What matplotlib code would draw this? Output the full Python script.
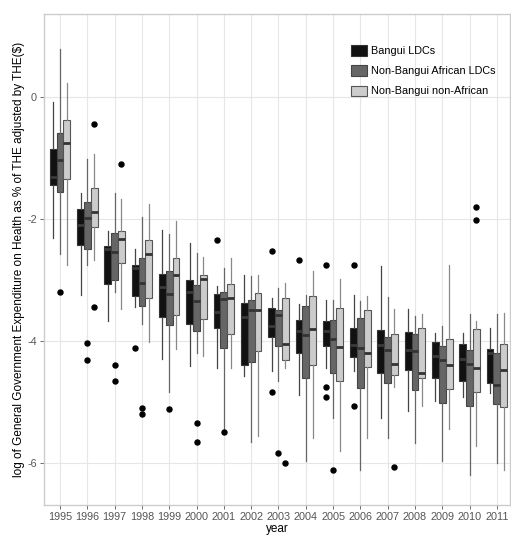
import matplotlib
matplotlib.use("Agg")
import matplotlib.pyplot as plt
from matplotlib.patches import Patch
import numpy as np

plt.rcParams['font.family'] = ['Liberation Sans', 'DejaVu Sans']

years = list(range(1995, 2012))
groups = ["Bangui LDCs", "Non-Bangui African LDCs", "Non-Bangui non-African"]

# Bangui LDCs
b_hi = [-0.08, -1.58, -2.19, -2.50, -2.18, -2.40, -3.10, -2.92, -3.30, -3.40, -3.33, -3.24, -2.77, -3.48, -3.87, -3.87, -3.79]
b_q3 = [-0.85, -1.84, -2.45, -2.75, -2.90, -3.00, -3.23, -3.37, -3.46, -3.65, -3.68, -3.79, -3.82, -3.85, -4.01, -4.05, -4.13]
b_md = [-1.31, -2.10, -2.50, -2.80, -3.11, -3.20, -3.53, -3.60, -3.76, -3.83, -3.84, -4.06, -4.07, -4.15, -4.24, -4.30, -4.20]
b_q1 = [-1.45, -2.43, -3.06, -3.27, -3.60, -3.73, -3.79, -4.40, -3.93, -4.19, -4.08, -4.27, -4.52, -4.47, -4.60, -4.65, -4.69]
b_lo = [-2.31, -3.25, -3.67, -3.45, -4.29, -4.41, -4.44, -4.58, -4.50, -4.88, -4.45, -4.50, -5.26, -5.15, -4.99, -4.92, -4.85]
b_out = [[], [], [], [-4.11], [], [], [-2.34], [], [-2.52, -4.84], [-2.68],
         [-2.76, -4.76, -4.92], [-2.75, -5.07], [], [], [], [], []]

# Non-Bangui African LDCs
a_hi = [0.79, -1.01, -1.58, -1.97, -2.25, -2.56, -2.81, -2.94, -3.13, -3.24, -3.33, -3.35, -3.28, -3.59, -3.75, -3.55, -3.56]
a_q3 = [-0.59, -1.73, -2.23, -2.64, -2.85, -3.08, -3.20, -3.33, -3.49, -3.42, -3.65, -3.63, -3.93, -3.89, -4.09, -4.15, -4.20]
a_md = [-1.04, -1.99, -2.54, -3.05, -3.23, -3.34, -3.32, -3.50, -3.57, -3.90, -3.96, -4.12, -4.15, -4.17, -4.31, -4.37, -4.73]
a_q1 = [-1.55, -2.49, -3.00, -3.42, -3.74, -3.83, -4.11, -4.35, -4.08, -4.61, -4.52, -4.77, -4.69, -4.80, -5.01, -5.07, -5.04]
a_lo = [-2.58, -2.76, -3.20, -3.73, -4.83, -4.20, -5.45, -5.66, -4.66, -5.96, -5.26, -6.11, -5.59, -5.68, -5.97, -6.20, -6.00]
a_out = [[-3.19], [-4.03, -4.31], [-4.39, -4.66], [-5.10, -5.19], [-5.11], [-5.35, -5.65], [-5.50],
         [], [-5.84], [], [-6.12], [], [], [], [], [], []]

# Non-Bangui non-African
n_hi = [0.23, -0.93, -1.67, -1.76, -2.04, -2.62, -2.64, -2.92, -3.05, -2.85, -2.99, -3.27, -3.48, -3.56, -2.75, -3.68, -3.54]
n_q3 = [-0.38, -1.50, -2.20, -2.34, -2.64, -2.92, -3.07, -3.21, -3.30, -3.27, -3.46, -3.49, -3.88, -3.78, -3.97, -3.80, -4.05]
n_md = [-0.75, -1.89, -2.33, -2.58, -2.92, -2.99, -3.30, -3.49, -4.05, -3.81, -4.10, -4.19, -4.37, -4.52, -4.39, -4.44, -4.47]
n_q1 = [-1.35, -2.13, -2.72, -3.30, -3.57, -3.64, -3.88, -4.16, -4.32, -4.39, -4.65, -4.43, -4.56, -4.60, -4.79, -4.84, -5.08]
n_lo = [-2.76, -2.68, -3.48, -4.02, -4.13, -4.25, -4.44, -5.55, -4.44, -5.59, -5.81, -5.59, -4.76, -5.07, -5.44, -5.73, -6.11]
n_out = [[], [-0.44, -3.45], [-1.10], [], [], [], [], [], [-6.00], [], [], [], [-6.06], [], [], [-1.80, -2.02], []]

series = [
    (b_lo, b_q1, b_md, b_q3, b_hi, b_out),
    (a_lo, a_q1, a_md, a_q3, a_hi, a_out),
    (n_lo, n_q1, n_md, n_q3, n_hi, n_out),
]
fills = ["#111111", "#666666", "#cccccc"]
edges = ["#333333", "#444444", "#555555"]
whisk = ["#444444", "#666666", "#888888"]
offsets = [-0.25, 0.0, 0.25]

fig = plt.figure(figsize=(5.11, 5.39), dpi=100)
ax = fig.add_axes([0.086, 0.063, 0.912, 0.911])

x = np.arange(len(years))
for k, (lo, q1, md, q3, hi, out) in enumerate(series):
    stats = []
    for i in range(len(years)):
        stats.append(dict(whislo=lo[i], q1=q1[i], med=md[i], q3=q3[i], whishi=hi[i], fliers=out[i]))
    ax.bxp(stats, positions=x + offsets[k], widths=0.25, patch_artist=True, showcaps=False,
           boxprops=dict(facecolor=fills[k], edgecolor=edges[k], linewidth=0.8),
           medianprops=dict(color="#333333" if k > 0 else "#3a3a3a", linewidth=2.0),
           whiskerprops=dict(color=whisk[k], linewidth=0.9),
           flierprops=dict(marker='o', markerfacecolor='black', markeredgecolor='black',
                           markersize=3.6, linestyle='none'),
           manage_ticks=False, zorder=3)

ax.set_xlim(-0.59, 16.48)
ax.set_ylim(-6.69, 1.36)
ax.set_xticks(x)
ax.set_xticklabels([str(y) for y in years])
ax.set_yticks([-6, -4, -2, 0])
ax.set_yticklabels(["-6", "-4", "-2", "0"])
ax.tick_params(labelsize=7.8, colors="#555555", length=3, width=0.6, pad=2)
ax.grid(True, color="#e6e6e6", linewidth=0.8, zorder=0)
ax.set_axisbelow(True)
for s in ax.spines.values():
    s.set_color("#cccccc")
    s.set_linewidth(1.0)

ax.set_xlabel("year", fontsize=8.5, labelpad=1)
ax.set_ylabel("log of General Government Expenditure on Health as % of THE adjusted by THE($)",
              fontsize=8.5, labelpad=2)

handles = [Patch(facecolor=fills[k], edgecolor=edges[k], linewidth=0.8) for k in range(3)]
leg = ax.legend(handles, groups, loc="upper left", bbox_to_anchor=(0.65, 0.945), fontsize=7.8,
                frameon=False, handlelength=1.5, handleheight=1.1, handletextpad=0.3,
                labelspacing=0.85, borderaxespad=0)

fig.savefig("out.png", dpi=100)
